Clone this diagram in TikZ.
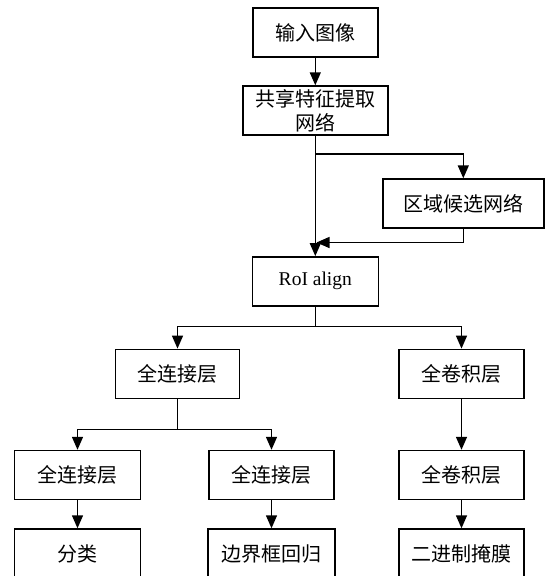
\documentclass[tikz,border=0pt]{standalone}
\usepackage{fontspec}
\setmainfont{Liberation Serif}
\newfontfamily\cjk{Noto Sans CJK SC}
\usetikzlibrary{arrows.meta}
\tikzset{
  box/.style={draw, line width=1.4pt, rectangle, minimum height=49pt, inner sep=0pt, align=center, font=\cjk\fontsize{20}{24}\selectfont},
  arr/.style={line width=1.4pt, -{Triangle[width=11pt,length=13pt]}},
  ln/.style={line width=1.4pt}
}
\begin{document}
\begin{tikzpicture}[x=1pt,y=-1pt]
\useasboundingbox (0,0) rectangle (545,576);
\node[box, minimum width=125pt] (in) at (315.3,32.5) {输入图像};
\node[box, minimum width=145pt] (share) at (315.3,110.5) {共享特征提取\\网络};
\node[box, minimum width=161pt] (rpn) at (463.3,203.5) {区域候选网络};
\node[box, minimum width=126pt, font=\fontsize{19.5}{23}\selectfont] (roi) at (315.3,281.3) {RoI align};
\node[box, minimum width=124pt] (fc1) at (177.5,373.8) {全连接层};
\node[box, minimum width=125pt] (conv1) at (461.5,373.8) {全卷积层};
\node[box, minimum width=126pt] (fc2) at (77.5,475) {全连接层};
\node[box, minimum width=125pt] (fc3) at (271.5,475) {全连接层};
\node[box, minimum width=125pt] (conv2) at (461.5,475) {全卷积层};
\node[box, minimum width=126pt] (cls) at (77.5,553.5) {分类};
\node[box, minimum width=127pt] (reg) at (271.5,553.5) {边界框回归};
\node[box, minimum width=125pt] (mask) at (461.5,553.5) {二进制掩膜};
\coordinate (b1) at (315.3,154);
\coordinate (j1) at (316.5,242.5);
\coordinate (b2) at (315.3,326.7);
\coordinate (b3) at (177.5,429.3);
\draw[arr] (in) -- (share);
\draw[arr] (share) -- (roi);
\draw[arr] (b1) -| (rpn.north);
\draw[arr] (rpn.south) |- (j1);
\draw[ln] (roi.south) -- (b2);
\draw[arr] (b2) -| (fc1.north);
\draw[arr] (b2) -| (conv1.north);
\draw[ln] (fc1.south) -- (b3);
\draw[arr] (b3) -| (fc2.north);
\draw[arr] (b3) -| (fc3.north);
\draw[arr] (conv1) -- (conv2);
\draw[arr] (fc2) -- (cls);
\draw[arr] (fc3) -- (reg);
\draw[arr] (conv2) -- (mask);
\end{tikzpicture}
\end{document}
